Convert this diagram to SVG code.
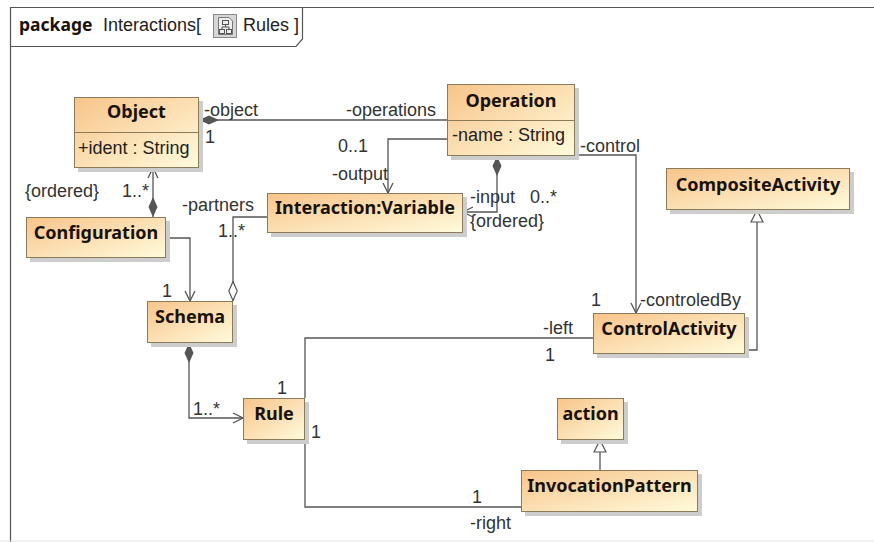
<svg xmlns="http://www.w3.org/2000/svg" width="874" height="542" viewBox="0 0 874 542">
<style>
.box{fill:url(#g);stroke:#8c7b58;stroke-width:1}
.sh{fill:#cdcdcd}
.dv{stroke:#8c7b58;stroke-width:1}
.n{font-family:"Noto Sans","DejaVu Sans",sans-serif;font-weight:bold;font-size:18px;fill:#1a1208;text-anchor:middle}
.a{font-family:"Liberation Sans",Arial,sans-serif;font-size:18px;fill:#222}
.l{font-family:"Liberation Sans",Arial,sans-serif;font-size:18px;fill:#333}
.c{fill:none;stroke:#555;stroke-width:1.3}
.fr{fill:none;stroke:#555;stroke-width:1.2}
</style>
<defs>
<linearGradient id="g" x1="0" y1="0" x2="1" y2="1">
<stop offset="0" stop-color="#F8C48A"/>
<stop offset="1" stop-color="#FFFBDC"/>
</linearGradient>
<marker id="open" markerUnits="userSpaceOnUse" viewBox="0 0 12 12" refX="11" refY="6" markerWidth="12" markerHeight="12" orient="auto"><path d="M1,1 L11,6 L1,11" fill="none" stroke="#555" stroke-width="1.3"/></marker>
<marker id="dfill" markerUnits="userSpaceOnUse" viewBox="0 0 20 10" refX="0" refY="5" markerWidth="20" markerHeight="10" orient="auto"><path d="M0,5 L10,0.5 L20,5 L10,9.5Z" fill="#555"/></marker>
<marker id="dopen" markerUnits="userSpaceOnUse" viewBox="0 0 20 10" refX="0" refY="5" markerWidth="20" markerHeight="10" orient="auto"><path d="M0.5,5 L10,0.8 L19.5,5 L10,9.2Z" fill="#fff" stroke="#555" stroke-width="1.2"/></marker>
<marker id="tri" markerUnits="userSpaceOnUse" viewBox="0 0 14 14" refX="13" refY="7" markerWidth="14" markerHeight="14" orient="auto"><path d="M1,1 L13,7 L1,13Z" fill="#fff" stroke="#555" stroke-width="1.2"/></marker>
</defs>
<rect width="874" height="542" fill="#fff"/>
<g id="frame">
<path class="fr" d="M10.5,542 V7.5 H874"/>
<path d="M0,541 H874" stroke="#e2e2e2" stroke-width="1"/>
<path class="fr" d="M10.5,46.5 H296 L302.5,39 V7.5"/>
<text x="19" y="31" class="n" style="text-anchor:start;font-size:17.5px">package</text>
<text x="103" y="31" class="a">Interactions[</text>
<rect x="213.5" y="14.5" width="23" height="23" fill="#d6d6d6" stroke="#8a8a8a"/>
<path d="M218.5,17.5 H229 L232.5,21 V34.5 H218.5Z" fill="#eee" stroke="#777"/>
<rect x="222.5" y="20.5" width="6" height="4" fill="none" stroke="#555"/>
<rect x="219.5" y="29.5" width="5" height="4" fill="none" stroke="#555"/>
<rect x="226.5" y="29.5" width="5" height="4" fill="none" stroke="#555"/>
<path d="M225.5,24.5 V27 M222,27 H229 M222,27 V29.5 M229,27 V29.5" stroke="#555" fill="none"/>
<text x="243" y="31" class="a">Rules ]</text>
</g>
<g id="connectors">
<path class="c" d="M199,120 H447" marker-start="url(#dfill)"/>
<path class="c" d="M447,139 H388 V193" marker-end="url(#open)"/>
<path class="c" d="M497,156 V212 H463" marker-start="url(#dfill)" marker-end="url(#open)"/>
<path class="c" d="M575,155 H636 V313" marker-end="url(#open)"/>
<path class="c" d="M745,350 H757 V210" marker-end="url(#tri)"/>
<path class="c" d="M593,338 H305 V398"/>
<path class="c" d="M305,440 V507 H521"/>
<path class="c" d="M600,470 V440" marker-end="url(#tri)"/>
<path class="c" d="M189,343 V418 H243" marker-start="url(#dfill)" marker-end="url(#open)"/>
<path class="c" d="M166,238 H190 V301" marker-end="url(#open)"/>
<path class="c" d="M233,301 V217 H267" marker-start="url(#dopen)"/>
<path class="c" d="M153,217 V168" marker-start="url(#dfill)" marker-end="url(#open)"/>
<text class="l" x="204" y="116">-object</text>
<text class="l" x="205" y="143">1</text>
<text class="l" x="346" y="116">-operations</text>
<text class="l" x="338" y="152">0..1</text>
<text class="l" x="332" y="180">-output</text>
<text class="l" x="470" y="203">-input</text>
<text class="l" x="530" y="203">0..*</text>
<text class="l" x="470" y="227">{ordered}</text>
<text class="l" x="580" y="152">-control</text>
<text class="l" x="591" y="306">1</text>
<text class="l" x="640" y="306">-controledBy</text>
<text class="l" x="543" y="334">-left</text>
<text class="l" x="545" y="361">1</text>
<text class="l" x="277" y="394">1</text>
<text class="l" x="311" y="438">1</text>
<text class="l" x="472" y="503">1</text>
<text class="l" x="470" y="529">-right</text>
<text class="l" x="193" y="415">1..*</text>
<text class="l" x="162" y="297">1</text>
<text class="l" x="182" y="211">-partners</text>
<text class="l" x="218" y="237">1..*</text>
<text class="l" x="25" y="197">{ordered}</text>
<text class="l" x="122" y="197">1..*</text>
</g>
<g id="Object">
<rect class="sh" x="78" y="101" width="125" height="71"/>
<rect class="box" x="74.5" y="97.5" width="124" height="70"/>
<line class="dv" x1="74.5" y1="132.5" x2="198.5" y2="132.5"/>
<text class="n" x="136.5" y="118">Object</text>
<text class="a" x="78" y="154">+ident : String</text>
</g>
<g id="Operation">
<rect class="sh" x="451" y="88" width="128" height="72"/>
<rect class="box" x="447.5" y="84.5" width="127" height="71"/>
<line class="dv" x1="447.5" y1="120.5" x2="574.5" y2="120.5"/>
<text class="n" x="511" y="107">Operation</text>
<text class="a" x="452" y="141">-name : String</text>
</g>
<g id="InteractionVariable">
<rect class="sh" x="271" y="197" width="196" height="40"/>
<rect class="box" x="267.5" y="193.5" width="195" height="39"/>
<text class="n" x="365" y="214">Interaction:Variable</text>
</g>
<g id="Configuration">
<rect class="sh" x="30" y="221" width="140" height="41"/>
<rect class="box" x="26.5" y="217.5" width="139" height="40"/>
<text class="n" x="96" y="239">Configuration</text>
</g>
<g id="Schema">
<rect class="sh" x="151" y="305" width="86" height="42"/>
<rect class="box" x="147.5" y="301.5" width="85" height="41"/>
<text class="n" x="190" y="323">Schema</text>
</g>
<g id="Rule">
<rect class="sh" x="247" y="402" width="62" height="42"/>
<rect class="box" x="243.5" y="398.5" width="61" height="41"/>
<text class="n" x="274" y="420">Rule</text>
</g>
<g id="ControlActivity">
<rect class="sh" x="597" y="317" width="152" height="41"/>
<rect class="box" x="593.5" y="313.5" width="151" height="40"/>
<text class="n" x="669" y="335">ControlActivity</text>
</g>
<g id="CompositeActivity">
<rect class="sh" x="670" y="172" width="184" height="42"/>
<rect class="box" x="666.5" y="168.5" width="183" height="41"/>
<text class="n" x="758" y="191">CompositeActivity</text>
</g>
<g id="action">
<rect class="sh" x="561" y="402" width="67" height="42"/>
<rect class="box" x="557.5" y="398.5" width="66" height="41"/>
<text class="n" x="590.5" y="420">action</text>
</g>
<g id="InvocationPattern">
<rect class="sh" x="525" y="474" width="177" height="42"/>
<rect class="box" x="521.5" y="470.5" width="176" height="41"/>
<text class="n" x="609.5" y="492">InvocationPattern</text>
</g>
</svg>
